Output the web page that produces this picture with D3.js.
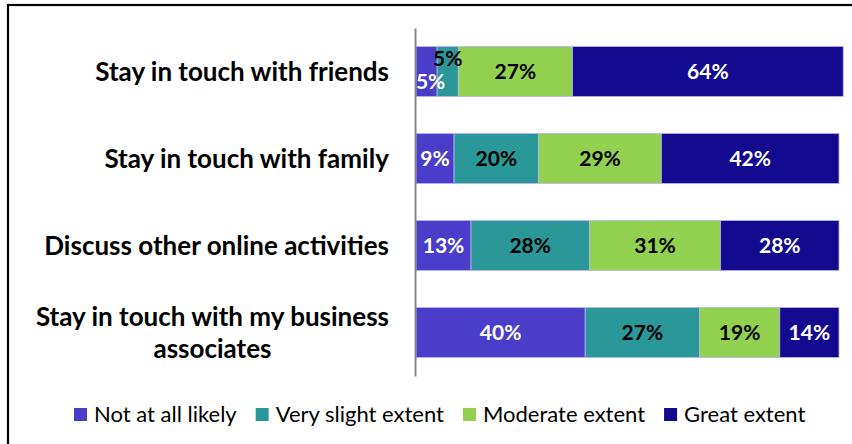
<!DOCTYPE html>
<html>
<head>
<meta charset="utf-8">
<script src="https://cdn.jsdelivr.net/npm/d3@7"></script>
<style>
  html, body { margin: 0; padding: 0; background: #fff; }
  svg { display: block; }
  text { font-family: Lato, "Open Sans", sans-serif; }
</style>
</head>
<body>
<svg id="chart" width="852" height="444"></svg>
<script>
// Survey responses: how likely each activity is, by extent (percent of respondents)
const categories = [
  "Stay in touch with friends",
  "Stay in touch with family",
  "Discuss other online activities",
  "Stay in touch with my business associates"
];
const seriesNames = ["Not at all likely", "Very slight extent", "Moderate extent", "Great extent"];
const notAtAll   = [5, 9, 13, 40];
const verySlight = [5, 20, 28, 27];
const moderate   = [27, 29, 31, 19];
const great      = [64, 42, 28, 14];
const seriesColors = ["#4a3dc9", "#2a9898", "#92d050", "#140a8f"];
const labelColors  = ["#ffffff", "#000000", "#000000", "#ffffff"];
// category labels broken into display lines
const categoryLines = [
  ["Stay in touch with friends"],
  ["Stay in touch with family"],
  ["Discuss other online activities"],
  ["Stay in touch with my business", "associates"]
];

const rows = categories.map((c, i) => ({
  category: c,
  "Not at all likely": notAtAll[i],
  "Very slight extent": verySlight[i],
  "Moderate extent": moderate[i],
  "Great extent": great[i]
}));

const svg = d3.select("#chart");
const W = 852, H = 444;
const margin = { top: 28, right: 13, bottom: 68, left: 416 };

// outer frame (runs off the right and bottom edges)
svg.append("rect")
  .attr("x", 8).attr("y", 5)
  .attr("width", W + 20).attr("height", H + 20)
  .attr("fill", "none").attr("stroke", "#000").attr("stroke-width", 2.2);

const x = d3.scaleLinear().domain([0, 100]).range([margin.left, W - margin.right]);
const y = d3.scaleBand().domain(categories)
  .range([margin.top, H - margin.bottom])
  .paddingInner(0.425).paddingOuter(0.2125);

const stack = d3.stack().keys(seriesNames);
const stacked = stack(rows);

const color = d3.scaleOrdinal().domain(seriesNames).range(seriesColors);
const labelColor = d3.scaleOrdinal().domain(seriesNames).range(labelColors);

const layers = svg.append("g").selectAll("g")
  .data(stacked).join("g")
  .attr("fill", d => color(d.key));

layers.selectAll("rect")
  .data(d => d.map(p => ({ key: d.key, p })))
  .join("rect")
  .attr("x", d => x(d.p[0]))
  .attr("y", d => y(d.p.data.category))
  .attr("width", d => x(d.p[1]) - x(d.p[0]))
  .attr("height", y.bandwidth())
  .attr("stroke", "#b8b4f0")
  .attr("stroke-width", 0.8);

// value labels; narrow segments get staggered vertically
const labels = svg.append("g")
  .attr("font-weight", 700)
  .attr("font-size", 21)
  .attr("text-anchor", "middle");

stacked.forEach(layer => {
  layer.forEach((p, rowIdx) => {
    const v = p[1] - p[0];
    let dy = 0;
    if (v < 7) {
      // first narrow segment in the row sits low, the next one sits high
      const narrowBefore = stacked.filter(l => l.index < layer.index &&
        (l[rowIdx][1] - l[rowIdx][0]) < 7).length;
      dy = narrowBefore % 2 === 0 ? 10 : -13;
    }
    labels.append("text")
      .attr("x", (x(p[0]) + x(p[1])) / 2 + (v < 7 && dy > 0 ? 4 : 0))
      .attr("y", y(p.data.category) + y.bandwidth() / 2 + dy)
      .attr("dy", "0.36em")
      .attr("fill", labelColor(layer.key))
      .text(v + "%");
  });
});

// category axis
const yAxis = svg.append("g")
  .attr("transform", `translate(${margin.left - 1},0)`)
  .call(d3.axisLeft(y).tickSize(0).tickSizeOuter(0).tickPadding(26).tickFormat(() => ""));
yAxis.select(".domain").attr("stroke", "#888").attr("stroke-width", 2);

yAxis.selectAll(".tick").each(function (d, i) {
  const g = d3.select(this);
  g.select("text").remove();
  const lines = categoryLines[i];
  const t = g.append("text")
    .attr("fill", "#000")
    .attr("font-weight", 700)
    .attr("font-size", 26)
    .attr("text-anchor", "middle");
  const lineH = 32;
  lines.forEach((ln, k) => {
    t.append("tspan")
      .attr("x", 0)
      .attr("y", (k - (lines.length - 1) / 2) * lineH)
      .attr("dy", "0.36em")
      .text(ln);
  });
  // right-align the block, keeping lines centred on each other
  const bw = t.node().getBBox().width;
  t.attr("transform", `translate(${-26 - bw / 2},0)`);
});

// legend
const legend = svg.append("g").attr("font-size", 22);
let lx = 74;
const ly = 414;
seriesNames.forEach(name => {
  const g = legend.append("g").attr("transform", `translate(${lx},0)`);
  g.append("rect")
    .attr("x", 0).attr("y", ly - 6)
    .attr("width", 13).attr("height", 13)
    .attr("fill", color(name));
  const t = g.append("text")
    .attr("x", 20).attr("y", ly).attr("dy", "0.36em")
    .attr("fill", "#000").text(name);
  lx += 20 + t.node().getComputedTextLength() + 19;
});
</script>
</body>
</html>
